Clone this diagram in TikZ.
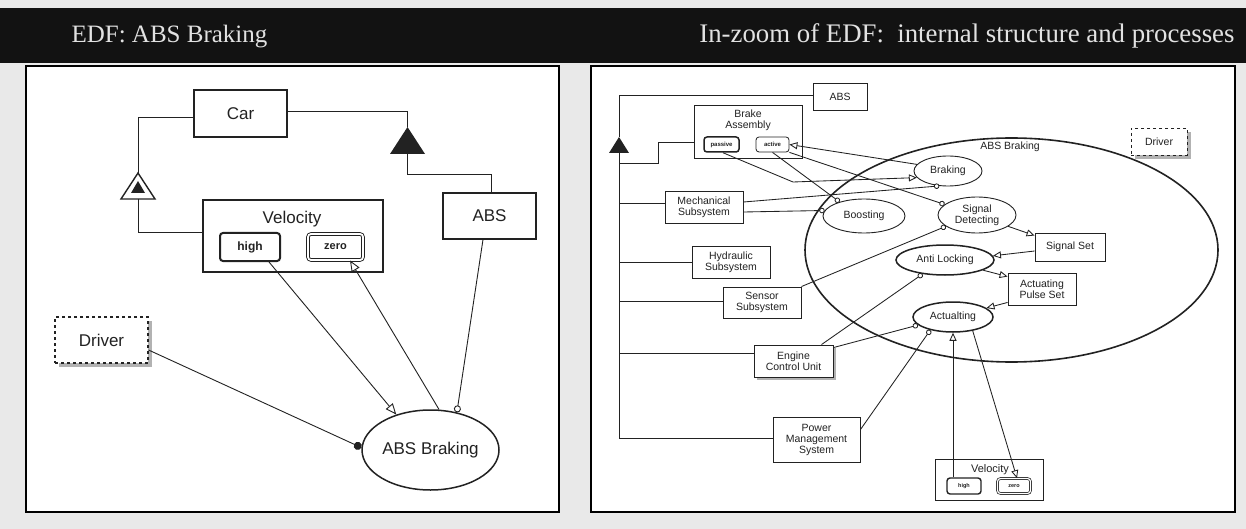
\documentclass[tikz,border=0pt]{standalone}
\usepackage{fontspec}
\setmainfont{Liberation Serif}
\setsansfont{Liberation Sans}
\usetikzlibrary{arrows.meta,shapes.geometric,shadows}
\definecolor{ink}{HTML}{222222}
\definecolor{paper}{HTML}{E9E9E9}
\definecolor{titletext}{HTML}{E2E2E2}
\begin{document}
\begin{tikzpicture}[x=1pt,y=-1pt,
  txtbig/.style={font=\sffamily\fontsize{17}{20}\selectfont},
  txtsmall/.style={font=\sffamily\fontsize{10.5}{11}\selectfont},
  txttiny/.style={font=\sffamily\bfseries\fontsize{6}{7}\selectfont},
  txttitle/.style={anchor=base west, text=titletext, font=\rmfamily\fontsize{25}{29}\selectfont},
  objbox/.style={draw=ink, fill=white, inner sep=0pt, text=ink, line width=0.9pt},
  procell/.style={ellipse, draw=ink, fill=white, inner sep=0pt, text=ink, line width=0.9pt},
  statehi/.style={draw=ink, fill=white, rounded corners=3pt, inner sep=0pt, text=ink},
  statezr/.style={draw=ink, double=white, fill=white, rounded corners=3pt, inner sep=0pt, text=ink},
  envbox/.style={objbox, dashed, drop shadow={shadow xshift=4pt, shadow yshift=-4pt, fill=gray!60, opacity=1}},
  lnk/.style={draw=ink, line width=0.9pt},
  reslnk/.style={lnk, -{Triangle[open, length=11pt, width=9pt]}},
  inslnk/.style={lnk, -{Circle[fill=white, length=7pt]}},
  agtlnk/.style={lnk, -{Circle[length=8pt]}},
  rlnk/.style={draw=ink, line width=0.85pt},
  rreslnk/.style={rlnk, -{Triangle[open, length=8pt, width=7pt]}},
  rinslnk/.style={rlnk, -{Circle[fill=white, length=5.5pt]}},
  panel/.style={draw=black, line width=1.8pt, fill=white}]
\fill[paper] (0,0) rectangle (1246,529);
\useasboundingbox (0,0) rectangle (1246,529);
\fill[black!93] (0,8) rectangle (1246,63);
\node[txttitle] (ttlleft) at (68,43) {EDF: ABS Braking};
\node[txttitle, anchor=base east, font=\rmfamily\fontsize{26.8}{31}\selectfont] (ttlright) at (1238,43) {In-zoom of EDF:\ \ internal structure and processes};
\draw[panel] (26,66) rectangle (559,512);
\draw[panel] (591,66) rectangle (1235,512);

\node[objbox, txtbig, line width=1.1pt, minimum width=93, minimum height=47] (car) at (240.5,113.5) {Car};
\node[objbox, line width=1.1pt, minimum width=180, minimum height=72] (vel) at (293,236) {};
\node[txtbig, text=ink] (vellbl) at (292,219) {Velocity};
\node[statehi, line width=2pt, minimum width=60, minimum height=28, font=\sffamily\bfseries\fontsize{12}{14}\selectfont] (high) at (250,247) {high};
\node[statezr, line width=0.9pt, double distance=1.8pt, minimum width=55, minimum height=26, font=\sffamily\bfseries\fontsize{11}{13}\selectfont] (zero) at (335.5,247) {zero};
\node[objbox, txtbig, line width=1.1pt, minimum width=93, minimum height=46] (abs) at (489.5,216) {ABS};
\node[envbox, txtbig, line width=1.1pt, minimum width=93, minimum height=46] (drv) at (101.5,340) {Driver};
\node[procell, txtbig, line width=1.5pt, minimum width=137, minimum height=80] (absbrk) at (430.5,450) {ABS Braking};

\coordinate (exhtop) at (138,173);
\coordinate (exhbot) at (138,199);
\draw[ink, line width=1.4pt, fill=white] (exhtop) -- ++(17,26) -- ++(-34,0) -- cycle;
\fill[ink] (138,181) -- ++(7,12) -- ++(-14,0) -- cycle;
\coordinate (aggtop) at (407.5,127);
\coordinate (aggbot) at (407.5,154);
\fill[ink] (aggtop) -- ++(17.5,27) -- ++(-35,0) -- cycle;

\coordinate (cl) at (138,117);
\coordinate (vl) at (138,232);
\draw[lnk] (car.west |- cl) -- (cl) -- (exhtop);
\draw[lnk] (exhbot) -- (vl) -- (vel.west |- vl);
\coordinate (cr) at (407.5,111);
\coordinate (ab1) at (407.5,174);
\coordinate (ab2) at (491,174);
\draw[lnk] (car.east |- cr) -- (cr) -- (aggtop);
\draw[lnk] (aggbot) -- (ab1) -- (ab2) -- (abs.north -| ab2);
\draw[reslnk] ([xshift=19pt]high.south) -- (absbrk.134);
\draw[reslnk] (absbrk.78) -- ([xshift=14.5pt]zero.south);
\draw[inslnk] ([xshift=-6.5pt]abs.south) -- (absbrk.55);
\draw[agtlnk] ([yshift=-10pt]drv.east) -- (absbrk.178);

\node[objbox, txtsmall, minimum width=54, minimum height=27] (rabs) at (840,96.5) {ABS};
\node[objbox, minimum width=108, minimum height=53] (brkas) at (748,131.5) {};
\node[txtsmall, text=ink, align=center] (brkaslbl) at (748,120) {Brake\\Assembly};
\node[statehi, line width=1.5pt, txttiny, minimum width=35, minimum height=15] (passive) at (721.5,144.5) {passive};
\node[statehi, line width=0.8pt, txttiny, minimum width=33, minimum height=15] (active) at (772.5,144.5) {active};
\node[objbox, txtsmall, align=center, minimum width=78, minimum height=32] (mech) at (704,207) {Mechanical\\Subsystem};
\node[objbox, txtsmall, align=center, minimum width=78, minimum height=32] (hydr) at (731,262) {Hydraulic\\Subsystem};
\node[objbox, txtsmall, align=center, minimum width=78, minimum height=31] (sens) at (762,302.5) {Sensor\\Subsystem};
\node[objbox, txtsmall, align=center, minimum width=79, minimum height=32, drop shadow={shadow xshift=3pt, shadow yshift=-3pt, fill=gray!60, opacity=1}] (ecu) at (793.5,361) {Engine\\Control Unit};
\node[objbox, txtsmall, align=center, minimum width=87, minimum height=45] (pms) at (816.5,439.5) {Power\\Management\\System};
\node[procell, line width=1.6pt, minimum width=413, minimum height=224] (rabsbrk) at (1011.5,250) {};
\node[txtsmall, text=ink] (rabsbrklbl) at (1010,147) {ABS Braking};
\node[procell, txtsmall, minimum width=68, minimum height=30] (braking) at (948,171) {Braking};
\node[procell, txtsmall, minimum width=82, minimum height=34] (boost) at (864,216) {Boosting};
\node[procell, txtsmall, align=center, minimum width=78, minimum height=36] (sigdet) at (977,215) {Signal\\Detecting};
\node[procell, txtsmall, line width=1.5pt, minimum width=98, minimum height=30] (antilock) at (945,260) {Anti Locking};
\node[procell, txtsmall, line width=1.5pt, minimum width=80, minimum height=30] (actl) at (953,317) {Actualting};
\node[objbox, txtsmall, minimum width=70, minimum height=28] (sigset) at (1070,247) {Signal Set};
\node[objbox, txtsmall, align=center, minimum width=68, minimum height=32] (pulse) at (1042,289) {Actuating\\Pulse Set};
\node[objbox, minimum width=108, minimum height=41] (rvel) at (989,479.5) {};
\node[text=ink, font=\sffamily\fontsize{11}{13}\selectfont] (rvellbl) at (990,470) {Velocity};
\node[statehi, line width=1.4pt, font=\sffamily\bfseries\fontsize{5.5}{6}\selectfont, minimum width=34, minimum height=16] (rhigh) at (964,486) {high};
\node[statezr, line width=0.7pt, double distance=1.2pt, font=\sffamily\bfseries\fontsize{5.5}{6}\selectfont, minimum width=33, minimum height=15] (rzero) at (1014,486) {zero};
\node[envbox, txtsmall, minimum width=56, minimum height=27] (rdrv) at (1159,141.5) {Driver};

\coordinate (ttop) at (619,95);
\coordinate (aggrtop) at (619,137);
\coordinate (aggrbot) at (619,153);
\coordinate (tbot) at (619,438);
\fill[ink] (aggrtop) -- ++(10,16) -- ++(-20,0) -- cycle;
\draw[rlnk] (rabs.west |- ttop) -- (ttop) -- (aggrtop);
\draw[rlnk] (aggrbot) -- (tbot) -- (pms.west |- tbot);
\coordinate (b1) at (619,163);
\coordinate (b1a) at (658,163);
\coordinate (b1b) at (658,142);
\draw[rlnk] (b1) -- (b1a) -- (b1b) -- (brkas.west |- b1b);
\coordinate (b2) at (619,203);
\draw[rlnk] (b2) -- (mech.west |- b2);
\coordinate (b3) at (619,262);
\draw[rlnk] (b3) -- (hydr.west |- b3);
\coordinate (b4) at (619,301);
\draw[rlnk] (b4) -- (sens.west |- b4);
\coordinate (b5) at (619,353);
\draw[rlnk] (b5) -- (ecu.west |- b5);

\coordinate (pbend) at (793,182);
\draw[rreslnk] ([xshift=1.5pt]passive.south) -- (pbend) -- (braking.192);
\draw[rreslnk] (braking.168) -- (active.east);
\draw[rinslnk] (active.south) -- (boost.150);
\draw[rinslnk] (active.south east) -- (sigdet.162);
\draw[rinslnk] ([yshift=5pt]mech.east) -- (braking.240);
\draw[rinslnk] ([yshift=-5pt]mech.east) -- (boost.172);
\draw[rinslnk] (sens.north east) -- (sigdet.200);
\draw[rinslnk] ([xshift=28pt]ecu.north) -- (antilock.212);
\draw[rinslnk] ([yshift=-3pt]ecu.north east) -- (actl.193);
\draw[rinslnk] ([yshift=-13pt]pms.north east) -- (actl.210);
\draw[rreslnk] (sigdet.340) -- ([yshift=-3pt]sigset.north west);
\draw[rreslnk] ([yshift=-4pt]sigset.west) -- (antilock.5);
\draw[rreslnk] (antilock.345) -- ([yshift=-4pt]pulse.north west);
\draw[rreslnk] ([yshift=3pt]pulse.south west) -- (actl.15);
\draw[rreslnk] (actl.south |- rhigh.north) -- (actl.south);
\draw[rreslnk] (actl.325) -- ([xshift=3pt]rzero.north);
\end{tikzpicture}
\end{document}
